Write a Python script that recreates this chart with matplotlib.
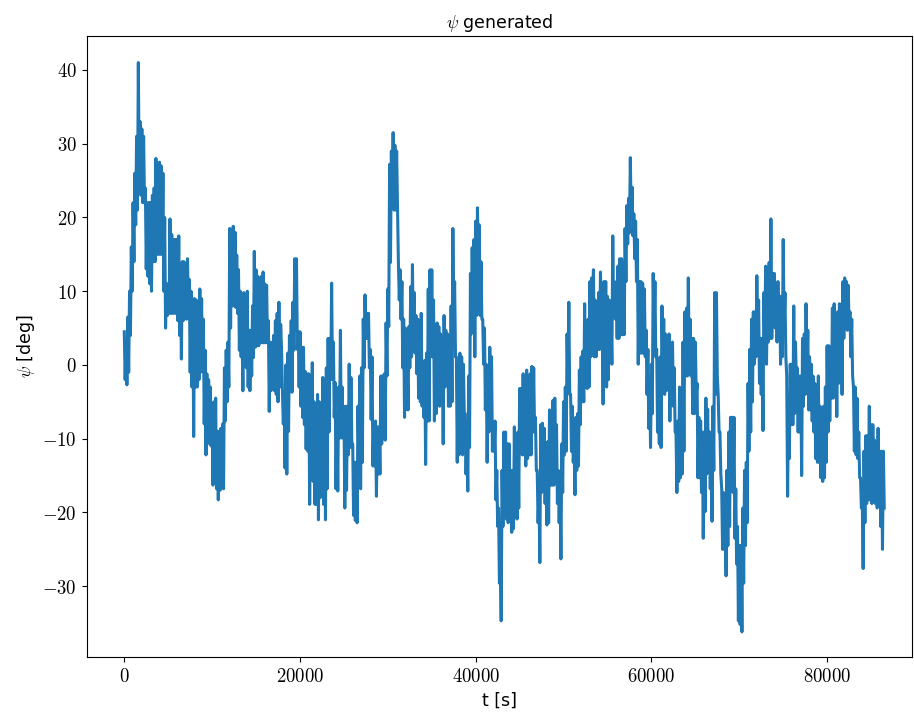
import numpy as np
import matplotlib
matplotlib.use("Agg")
import matplotlib.pyplot as plt
from matplotlib.ticker import FuncFormatter

dt_s = 100
psi_deg = [
    4.5,-2.0, 3.0,-2.7, 6.5,-1.0, 10.0,4.0, 16.0,10.0, 22.0,14.0, 26.0,19.0, 31.0,21.0, 41.0,25.0, 33.0,23.0,
    32.0,22.0, 31.0,22.0, 24.0,13.0, 22.0,12.0, 22.0,11.0, 22.0,10.0, 23.0,14.0, 24.0,14.0, 28.0,15.0, 27.0,15.0,
    27.5,15.0, 27.0,15.0, 26.0,10.0, 20.0,5.0, 11.0,6.7, 11.0,7.0, 19.8,7.0, 17.7,7.0, 17.0,7.0, 17.0,7.0,
    17.0,6.0, 17.5,4.0, 12.0,0.8, 14.0,6.0, 14.0,6.5, 13.0,6.2, 14.4,7.0, 11.6,-1.0, 10.0,-3.0, 8.0,-9.7,
    9.0,-3.0, 8.8,-3.0, 8.0,-2.0, 10.3,-1.0, 9.0,-0.9, 6.2,-8.0, 2.0,-12.2, -1.2,-10.0, -2.0,-10.7, -3.0,-11.0,
    -6.6,-16.3, -5.0,-16.0, -4.5,-16.8, -9.0,-18.3, -9.0,-17.0, -8.6,-16.0, -8.0,-16.8, -0.4,-7.6, 2.0,-5.0, 3.1,-3.0,
    18.5,5.0, 17.0,8.0, 18.8,8.0, 18.0,7.8, 14.9,7.0, 12.9,2.0, 10.0,1.1, 5.0,-3.5, 9.8,0.0, 8.0,-0.4,
    10.0,-3.0, 4.7,-3.5, 4.7,-1.5, 8.0,1.0, 15.4,2.4, 12.9,2.6, 12.0,2.6, 11.6,3.0, 12.0,3.0, 12.6,3.0,
    11.0,3.0, 10.8,3.1, 6.0,-6.3, 3.1,-3.5, 3.0,-3.0, 4.0,-3.5, 6.0,-4.0, 7.0,-5.0, 8.5,-3.0, 5.5,2.1,
    -3.5,-8.0, -5.0,-14.0, 0.0,-14.8, 1.6,-9.0, 4.0,-3.5, 6.0,-3.7, 8.5,2.0, 14.4,4.7, 14.4,2.1, 4.5,-3.0,
    4.5,-5.6, 2.4,-7.1, 2.4,-8.1, -0.9,-11.4, -1.2,-11.7, -1.2,-18.9, -3.0,-15.0, 0.3,-15.8, -5.0,-18.9, -9.1,-18.9,
    -4.0,-21.0, -5.0,-18.0, -7.6,-17.8, -1.7,-18.9, -7.6,-21.0, -0.4,-16.8, 3.6,-9.1, 3.6,-2.0, 11.1,-1.9, 3.1,-7.1,
    -2.4,-16.8, -7.1,-17.1, -3.0,-9.9, 4.7,-9.9, -3.0,-9.9, -5.6,-19.4, -5.6,-17.0, -5.6,-12.2, 0.1,-11.2, -1.7,-10.7,
    -10.7,-20.4, -13.2,-21.1, -13.2,-21.4, -5.6,-13.2, -1.5,-16.8, -0.4,-13.2, 6.2,-0.4, 9.5,3.6, 7.0,3.6, 7.0,-0.4,
    2.1,-7.4, 1.1,-13.7, -8.1,-13.7, -7.6,-17.8, -8.4,-14.8, -8.4,-14.8, -1.5,-10.7, -1.5,-10.0, -1.2,-10.2, 5.7,-1.5,
    10.3,5.2, 27.2,13.9, 29.0,21.6, 31.5,21.0, 29.8,21.0, 29.0,21.0, 13.9,8.8, 12.9,6.2, 11.3,-0.4, 6.2,-7.1,
    5.0,-6.0, 0.1,-6.1, 5.2,-0.4, 10.6,1.1, 13.6,2.0, 9.8,1.6, 6.7,-1.2, 6.2,-4.5, 3.1,-5.0, 7.0,-5.6,
    0.1,-7.1, 0.6,-13.5, 1.6,-7.6, 10.3,-7.6, 12.9,1.1, 12.9,1.1, 8.8,-7.6, 4.2,-6.6, 5.7,-5.0, 5.2,-5.6,
    4.2,-3.0, 3.1,-10.7, 6.7,-3.0, 4.7,-2.0, 4.2,-5.6, 3.1,-5.6, 8.0,-5.0, 18.5,6.0, 11.3,1.1, 1.1,-13.2,
    0.1,-12.2, 1.6,-9.1, 1.1,-12.2, 0.1,-6.6, -6.6,-14.8, -9.1,-17.1, -1.5,-11.2, 12.4,4.2, 15.9,5.2, 17.0,1.1,
    19.5,6.7, 21.3,13.4, 19.0,6.7, 14.0,6.2, 6.2,0.1, 5.0,-6.1, 0.1,-13.2, -2.5,-9.1, 2.4,-4.0, 1.1,-11.7,
    -8.1,-11.7, -7.6,-18.3, -14.3,-21.9, -19.4,-29.6, -26.0,-34.7, -14.3,-21.9, -9.1,-16.8, -9.1,-20.9, -10.7,-21.4, -10.7,-19.4,
    -14.3,-22.7, -14.3,-22.2, -8.4,-19.0, -11.2,-20.9, -9.1,-19.4, -3.2,-11.7, -3.2,-12.2, -1.2,-12.2, -1.5,-13.7, -0.7,-12.7,
    -2.0,-12.2, -1.2,-12.2, -0.2,-9.1, -0.4,-9.1, -7.1,-14.3, -14.3,-21.4, -17.3,-26.8, -8.1,-17.3, -7.9,-14.3, -8.6,-18.8,
    -10.7,-21.7, -10.4,-21.4, -6.1,-16.3, -6.6,-16.3, -4.8,-16.3, -4.5,-12.2, -8.1,-18.8, -14.3,-21.4, -15.8,-26.3, -10.7,-17.3,
    -5.0,-12.2, -3.0,-11.7, 4.2,-3.0, 8.5,-4.0, -4.0,-11.7, -5.6,-13.2, -11.2,-17.6, -7.1,-14.3, -6.6,-13.7, -0.7,-8.1,
    1.1,-5.0, 1.9,-5.0, 8.3,-3.0, 3.0,-3.2, 6.2,-3.0, 11.3,1.1, 11.8,6.2, 12.9,1.1, 8.8,1.1, 6.2,2.1,
    9.8,2.1, 12.6,6.2, 6.2,-5.3, 11.3,0.6, 11.3,-3.0, 9.3,-2.0, 8.8,1.1, 6.2,0.1, 17.5,6.7, 11.3,6.2,
    10.3,3.6, 13.4,3.6, 14.4,4.1, 14.4,4.1, 13.9,4.1, 18.5,11.3, 21.6,16.4, 22.6,17.9, 28.1,20.0, 24.1,17.5,
    20.5,14.4, 19.5,11.3, 17.0,0.1, 11.3,1.6, 11.3,1.6, 11.1,1.6, 10.3,1.1, 4.7,-4.0, 2.1,-8.6, -2.0,-11.2,
    0.1,-6.6, 12.4,4.0, 11.3,1.1, 2.1,-9.1, -4.0,-10.7, 1.1,-11.2, 8.0,-1.0, 6.2,-4.0, 4.2,-3.5, 3.1,-2.0,
    4.2,-7.6, 0.1,-5.0, 3.1,-5.6, -0.4,-9.1, -9.1,-17.3, -7.6,-15.8, -3.0,-15.3, -9.1,-14.8, 3.1,-11.7, 7.2,-1.5,
    7.7,-1.5, 11.8,0.1, 6.2,-1.5, 3.6,-6.6, 3.6,-6.6, 3.1,-4.0, -2.5,-15.3, -7.1,-15.3, -7.6,-17.3, -9.1,-23.5,
    -9.1,-19.9, -4.5,-14.8, -6.0,-14.3, -9.1,-16.8, -9.1,-21.2, -5.6,-14.3, 9.8,-4.0, 9.8,-1.5, -4.0,-9.1, -9.1,-14.8,
    -16.8,-25.0, -17.3,-25.0, -21.9,-28.6, -14.3,-24.5, -9.1,-21.9, -7.1,-16.8, -7.1,-17.3, -7.1,-23.5, -16.8,-27.0, -21.9,-34.7,
    -24.5,-35.2, -24.5,-36.2, -19.4,-29.6, -14.3,-24.5, -13.2,-21.4, -2.5,-11.7, 2.1,-9.1, 6.2,-5.0, 7.2,0.1, 7.2,1.1,
    12.1,3.0, 8.8,-2.5, 3.6,-4.0, 3.6,-8.9, 9.8,3.1, 13.4,0.1, 10.3,3.1, 13.9,3.6, 19.8,3.6, 12.4,5.2,
    12.4,5.0, 10.3,3.1, 11.3,3.6, 9.3,0.1, 9.3,1.1, 17.0,5.0, 9.8,1.1, -1.5,-17.8, -5.0,-12.7, 0.1,-8.1,
    0.1,-8.1, 8.0,-6.6, 3.1,-2.5, -0.4,-9.1, -1.5,-9.1, -1.5,-15.0, 3.6,-5.6, 4.2,-4.0, 8.3,-1.0, 4.7,-6.1,
    1.1,-6.1, 0.1,-7.6, -1.5,-9.1, -2.5,-12.7, -5.6,-13.2, -1.5,-13.2, -5.6,-15.3, -6.6,-15.8, -5.6,-15.3, -3.0,-13.2,
    2.6,-9.1, 2.6,-7.6, 1.1,-4.5, 7.7,-4.5, 8.3,-1.0, 5.0,-7.0, 7.2,-2.5, 8.3,-0.4, 6.2,-4.0, 11.3,3.6,
    11.8,6.2, 11.3,4.7, 10.8,5.2, 7.2,1.1, 6.2,-1.5, -3.0,-11.7, -3.0,-12.2, -4.5,-12.7, -9.1,-15.3, -15.3,-19.4,
    -18.3,-27.6, -11.7,-21.4, -9.6,-18.8, -9.6,-18.3, -5.6,-18.3, -8.1,-18.8, -8.1,-18.3, -10.2,-18.8, -10.7,-19.4, -8.6,-16.8,
    -11.7,-21.9, -11.7,-25.0, -11.7,-19.4,
]
x_ticks = [0, 20000, 40000, 60000, 80000]
y_ticks = [-30, -20, -10, 0, 10, 20, 30, 40]
title_text = r"$\psi$ generated"
xlabel_text = "t [s]"
ylabel_text = r"$\psi$ [deg]"

plt.rcParams["mathtext.fontset"] = "cm"
plt.rcParams["font.family"] = ["DejaVu Sans"]

t_s = np.arange(len(psi_deg)) * dt_s

fig = plt.figure(figsize=(9.14, 7.17), dpi=100)
ax = fig.add_axes([86.5 / 914, 60 / 717, 825.5 / 914, 621 / 717])
ax.plot(t_s, psi_deg, color="#1f77b4", linewidth=2.2)

ax.set_xlim(-4300, 89660)
ax.set_ylim(-39.6, 44.6)
ax.set_xticks(x_ticks)
ax.set_yticks(y_ticks)
fmt = FuncFormatter(lambda v, p: r"$%d$" % int(round(v)))
ax.xaxis.set_major_formatter(fmt)
ax.yaxis.set_major_formatter(fmt)
ax.tick_params(labelsize=13.5)

ax.set_title(title_text, fontsize=12.5)
ax.set_xlabel(xlabel_text, fontsize=12.5)
ax.set_ylabel(ylabel_text, fontsize=12.5)

fig.savefig("out.png", dpi=100)
